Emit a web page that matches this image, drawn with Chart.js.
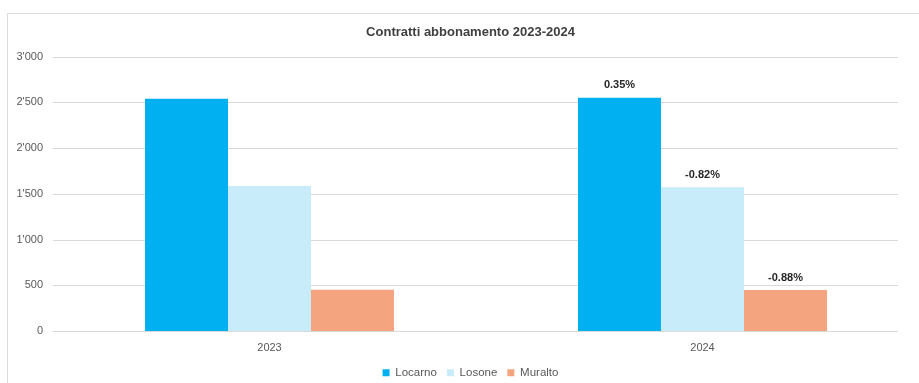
<!DOCTYPE html>
<html>
<head>
<meta charset="utf-8">
<script src="https://cdn.jsdelivr.net/npm/chart.js@4.4.1/dist/chart.umd.min.js"></script>
<style>
  html, body { margin: 0; padding: 0; background: #ffffff; }
  #wrap { position: relative; width: 919px; height: 383px; overflow: hidden; }
  #frame { position: absolute; left: 7px; top: 13px; width: 940px; height: 400px; border: 1px solid #dcdcdc; box-sizing: border-box; }
  #chart { position: absolute; left: 0; top: 0; }
</style>
</head>
<body>
<div id="wrap">
  <div id="frame"></div>
  <canvas id="chart" width="919" height="383"></canvas>
</div>
<script>
// Subscription contracts per municipality
const years = ['2023', '2024'];
const locarno = [2540, 2549];
const losone = [1585, 1572];
const muralto = [452, 448];

// Year-on-year change shown above the 2024 bars
const locarnoChange = [null, '0.35%'];
const losoneChange = [null, '-0.82%'];
const muraltoChange = [null, '-0.88%'];

const yTicks = [0, 500, 1000, 1500, 2000, 2500, 3000];

const FONT = "'Liberation Sans', Arial, sans-serif";
const changes = [locarnoChange, losoneChange, muraltoChange];

function fmtThousands(v) {
  return String(v).replace(/\B(?=(\d{3})+(?!\d))/g, "'");
}

// Title and legend are centred on the framed panel, which runs past the right edge
const PANEL_SHIFT = 11;
const centreOnPanel = {
  id: 'centreOnPanel',
  afterLayout(chart) {
    [chart.titleBlock, chart.legend].forEach(b => {
      if (b) { b.left += PANEL_SHIFT; b.right += PANEL_SHIFT; }
    });
  }
};

// Horizontal gridlines stop a little short of the plot's right edge
const GRID_INSET_RIGHT = 21;
const shortGrid = {
  id: 'shortGrid',
  beforeDatasetsDraw(chart) {
    const { ctx, chartArea } = chart;
    const y = chart.scales.y;
    ctx.save();
    ctx.strokeStyle = '#d9d9d9';
    ctx.lineWidth = 1;
    y.ticks.forEach(t => {
      const py = Math.round(y.getPixelForValue(t.value)) + 0.5;
      ctx.beginPath();
      ctx.moveTo(chartArea.left, py);
      ctx.lineTo(chartArea.right - GRID_INSET_RIGHT, py);
      ctx.stroke();
    });
    ctx.restore();
  }
};

const changeLabels = {
  id: 'changeLabels',
  afterDatasetsDraw(chart) {
    const ctx = chart.ctx;
    ctx.save();
    ctx.font = 'bold 11px ' + FONT;
    ctx.fillStyle = '#262626';
    ctx.textAlign = 'center';
    ctx.textBaseline = 'bottom';
    chart.data.datasets.forEach((ds, i) => {
      const meta = chart.getDatasetMeta(i);
      meta.data.forEach((bar, j) => {
        const txt = changes[i][j];
        if (txt) ctx.fillText(txt, bar.x, bar.y - 7);
      });
    });
    ctx.restore();
  }
};

new Chart(document.getElementById('chart'), {
  type: 'bar',
  data: {
    labels: years,
    datasets: [
      { label: 'Locarno', data: locarno, backgroundColor: '#00b0f0' },
      { label: 'Losone', data: losone, backgroundColor: '#c8ecfa' },
      { label: 'Muralto', data: muralto, backgroundColor: '#f4a47e' }
    ]
  },
  options: {
    responsive: false,
    animation: false,
    layout: { padding: { left: 0, right: 0, top: 0, bottom: 0 } },
    datasets: { bar: { barPercentage: 1.0, categoryPercentage: 0.575 } },
    plugins: {
      title: {
        display: true,
        text: 'Contratti abbonamento 2023-2024',
        color: '#404040',
        font: { family: FONT, size: 13, weight: 'bold' },
        padding: { top: 25, bottom: 16 }
      },
      legend: {
        position: 'bottom',
        maxHeight: 26,
        labels: {
          color: '#595959',
          font: { family: FONT, size: 11.5 },
          boxWidth: 7,
          boxHeight: 7,
          padding: 10
        }
      },
      tooltip: { enabled: false }
    },
    scales: {
      x: {
        afterFit(scale) { scale.height = 26; },
        grid: { display: false },
        border: { display: false },
        ticks: { color: '#595959', font: { family: FONT, size: 11 }, padding: 2 }
      },
      y: {
        min: 0,
        max: 3000,
        afterFit(scale) { scale.width = 53; },
        afterBuildTicks(scale) { scale.ticks = yTicks.map(v => ({ value: v })); },
        grid: { display: false, drawTicks: false },
        border: { display: false },
        ticks: {
          color: '#595959',
          font: { family: FONT, size: 11 },
          padding: 10,
          callback: v => fmtThousands(v)
        }
      }
    }
  },
  plugins: [shortGrid, changeLabels, centreOnPanel]
});
</script>
</body>
</html>
